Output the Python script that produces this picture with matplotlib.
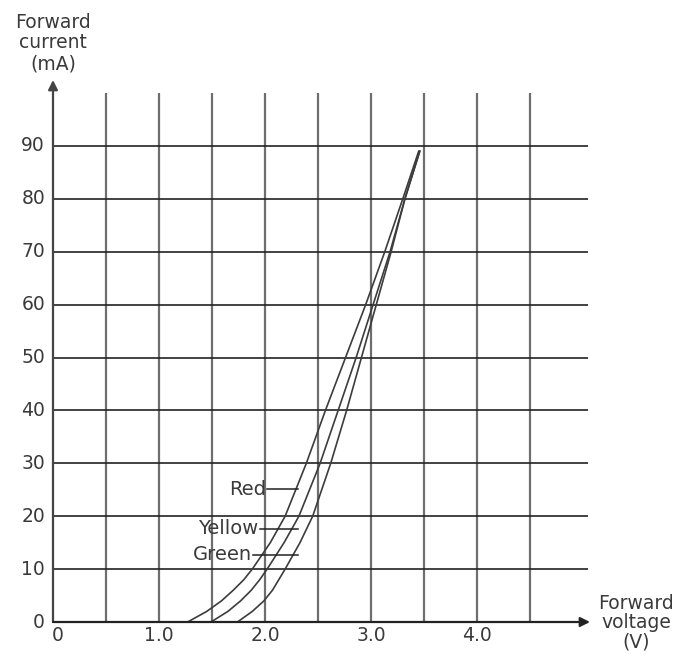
import matplotlib
matplotlib.use("Agg")
import matplotlib.pyplot as plt

# ---- data ----
current_ma = [0, 2, 4, 6, 8, 10, 15, 20, 30, 40, 50, 60, 70, 80, 89]
red_v = [1.27, 1.45, 1.59, 1.70, 1.80, 1.88, 2.05, 2.19, 2.39, 2.57, 2.76, 2.95, 3.13, 3.30, 3.45]
yellow_v = [1.49, 1.65, 1.77, 1.87, 1.95, 2.02, 2.18, 2.32, 2.52, 2.69, 2.86, 3.02, 3.18, 3.32, 3.46]
green_v = [1.74, 1.88, 1.99, 2.07, 2.13, 2.19, 2.33, 2.45, 2.62, 2.77, 2.91, 3.05, 3.19, 3.32, 3.46]

series_names = ["Red", "Yellow", "Green"]
label_current = [25.1, 17.6, 12.7]      # mA level of each leader line
label_start_v = [2.02, 1.95, 1.89]      # leader line start
label_end_v = [2.31, 2.31, 2.31]        # leader line end

x_ticks = [0, 1.0, 2.0, 3.0, 4.0]
x_tick_labels = ["0", "1.0", "2.0", "3.0", "4.0"]
y_ticks = [0, 10, 20, 30, 40, 50, 60, 70, 80, 90]
v_grid = [0.5, 1.0, 1.5, 2.0, 2.5, 3.0, 3.5, 4.0, 4.5]
h_grid = [10, 20, 30, 40, 50, 60, 70, 80, 90]

W, H = 684, 654
fig = plt.figure(figsize=(W / 100, H / 100), dpi=100)
plt.rcParams['font.family'] = ['DejaVu Sans']

x0_px, y0_px = 53, 622
px_per_v = 106.0
px_per_ma = 5.29
xmax = (590 - x0_px) / px_per_v
ymax = (y0_px - 80) / px_per_ma

ax = fig.add_axes([x0_px / W, (H - y0_px) / H, (590 - x0_px) / W, (y0_px - 80) / H])
ax.set_xlim(0, xmax)
ax.set_ylim(0, ymax)
ax.axis("off")

txt_color = "#3a3a3a"

# grid
for v in v_grid:
    ax.plot([v, v], [0, 100], color="#6e6e6e", lw=1.6, solid_capstyle="butt", zorder=1)
for c in h_grid:
    ax.plot([0, xmax - 0.02], [c, c], color="#222222", lw=1.2, solid_capstyle="butt", zorder=1)

# axes with arrows
ax.annotate("", xy=(0, ymax), xytext=(0, 0),
            arrowprops=dict(arrowstyle="-|>", color="#444444", lw=1.6,
                            mutation_scale=14, shrinkA=0, shrinkB=0), zorder=3)
ax.annotate("", xy=(xmax, 0), xytext=(0, 0),
            arrowprops=dict(arrowstyle="-|>", color="#222222", lw=1.6,
                            mutation_scale=14, shrinkA=0, shrinkB=0), zorder=3)

# curves
for vs in (red_v, yellow_v, green_v):
    ax.plot(vs, current_ma, color="#3c3c3c", lw=1.2, zorder=2)

# curve labels with leader lines
for name, c, vs, ve in zip(series_names, label_current, label_start_v, label_end_v):
    ax.plot([vs, ve], [c, c], color="#222222", lw=1.1, zorder=2)
    ax.text(vs - 0.01, c, name, ha="right", va="center", fontsize=14, color=txt_color)

# tick labels
for t in y_ticks:
    ax.text(-0.075, t, str(t), ha="right", va="center", fontsize=13.5, color=txt_color)
for t, lab in zip(x_ticks, x_tick_labels):
    xx = t + (0.04 if t == 0 else 0)
    ax.text(xx, -2.5, lab, ha="center", va="center", fontsize=13.5, color=txt_color)

# axis titles
fig.text(53 / W, 1 - 43 / H, "Forward\ncurrent\n(mA)", ha="center", va="center",
         fontsize=13.5, color=txt_color, linespacing=1.12)
fig.text(636 / W, 1 - 623 / H, "Forward\nvoltage\n(V)", ha="center", va="center",
         fontsize=13.5, color=txt_color, linespacing=1.02)

fig.savefig("out.png", dpi=100, facecolor="white")
